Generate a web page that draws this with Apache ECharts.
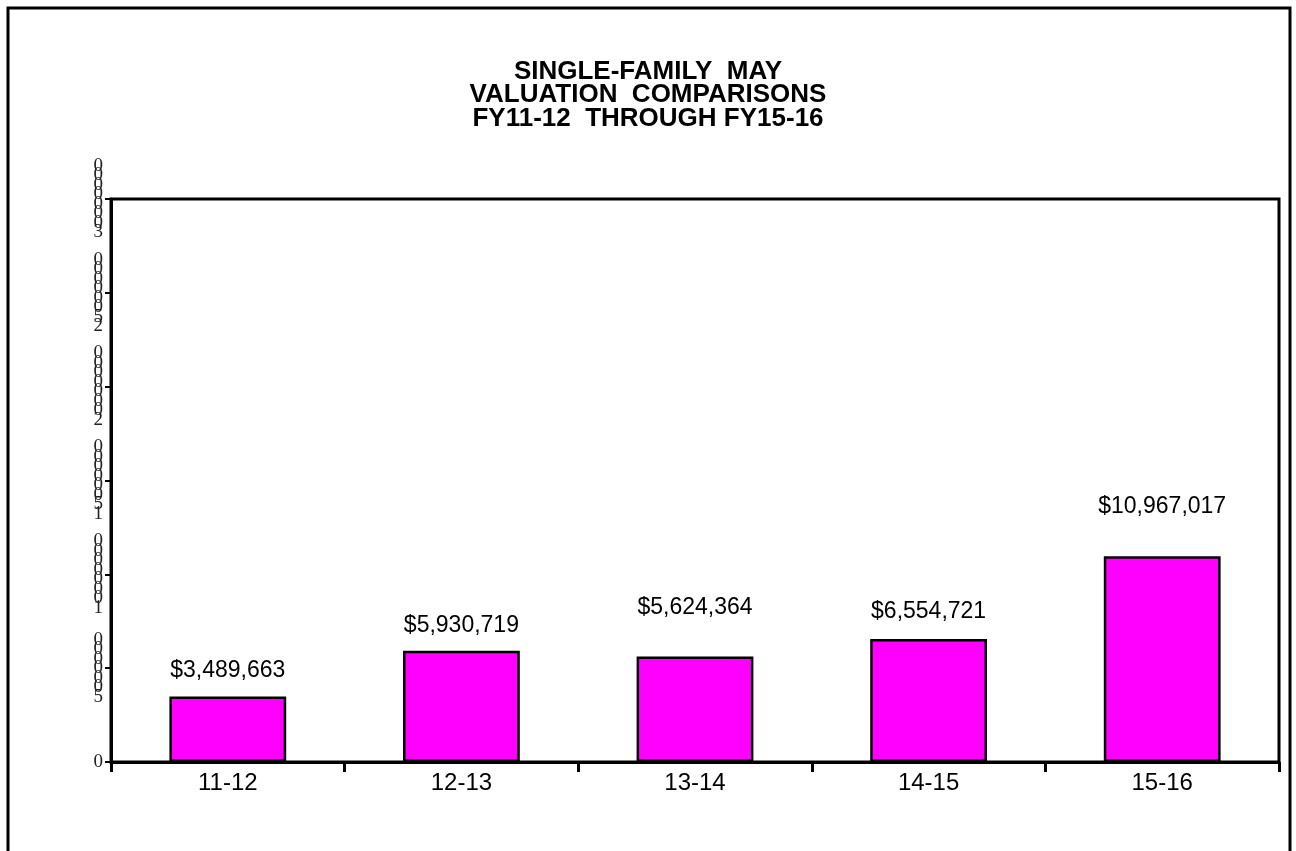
<!DOCTYPE html>
<html>
<head>
<meta charset="utf-8">
<script src="https://cdn.jsdelivr.net/npm/echarts@6/dist/echarts.min.js"></script>
<style>
html,body{margin:0;padding:0;background:#fff;}
#chart{width:1296px;height:851px;}
</style>
</head>
<body>
<div id="chart"></div>
<script>
const categories = ['11-12', '12-13', '13-14', '14-15', '15-16'];
const values = [3489663, 5930719, 5624364, 6554721, 10967017];
const yTicks = [0, 5000000, 10000000, 15000000, 20000000, 25000000, 30000000];
const titleLines = ['SINGLE-FAMILY  MAY', 'VALUATION  COMPARISONS', 'FY11-12  THROUGH FY15-16'];
// label gaps above bars (style, in px)
const labelGaps = [14, 14, 37, 16, 38];

const chart = echarts.init(document.getElementById('chart'), null, {renderer: 'canvas'});

function money(v) {
  return '$' + v.toString().replace(/\B(?=(\d{3})+(?!\d))/g, ',');
}

const option = {
  backgroundColor: '#fff',
  animation: false,
  title: {
    text: titleLines.join('\n'),
    left: 'center',
    top: 55,
    textStyle: {
      fontFamily: 'Liberation Sans, Arial, sans-serif',
      fontWeight: 'bold',
      fontSize: 26,
      lineHeight: 23.5,
      color: '#000'
    }
  },
  graphic: [{
    type: 'rect',
    shape: {x: 8, y: 8, width: 1282, height: 900},
    style: {fill: 'none', stroke: '#000', lineWidth: 3}
  }],
  grid: {
    left: 111, top: 199, right: 17, bottom: 89,
    show: true, borderColor: '#000', borderWidth: 3, backgroundColor: 'transparent'
  },
  xAxis: {
    type: 'category',
    data: categories,
    boundaryGap: true,
    axisLine: {lineStyle: {color: '#000', width: 3}},
    axisTick: {show: true, length: 10, lineStyle: {color: '#000', width: 3}},
    axisLabel: {
      color: '#000', fontFamily: 'Liberation Sans, Arial, sans-serif', fontSize: 24, margin: 9
    },
    splitLine: {show: false}
  },
  yAxis: {
    type: 'value',
    min: yTicks[0],
    max: yTicks[yTicks.length - 1],
    interval: yTicks[1] - yTicks[0],
    axisLine: {show: true, lineStyle: {color: '#000', width: 3}},
    axisTick: {show: true, length: 6, lineStyle: {color: '#000', width: 2}},
    splitLine: {show: false},
    axisLabel: {
      color: '#222',
      fontFamily: 'Liberation Serif, Times New Roman, serif',
      fontSize: 19,
      lineHeight: 9.5,
      margin: 8,
      formatter: v => String(v).split('').reverse().join('\n')
    }
  },
  series: [{
    type: 'bar',
    barWidth: '50%',
    data: values.map((v, i) => ({
      value: v,
      label: {distance: labelGaps[i]}
    })),
    itemStyle: {color: '#FF00FF', borderColor: '#000', borderWidth: 2.5},
    label: {
      show: true,
      position: 'top',
      color: '#000',
      fontFamily: 'Liberation Sans, Arial, sans-serif',
      fontSize: 23,
      formatter: p => money(p.value)
    }
  }]
};
chart.setOption(option);
</script>
</body>
</html>
